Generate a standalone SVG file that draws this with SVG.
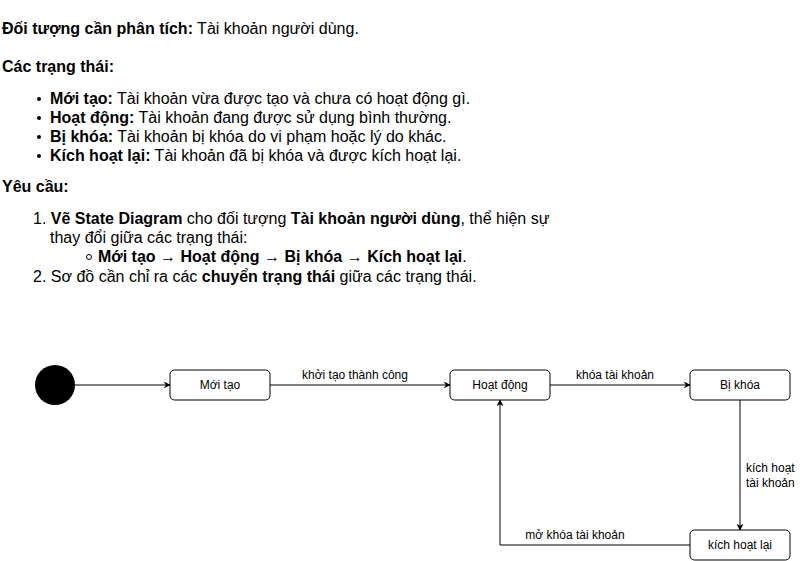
<svg xmlns="http://www.w3.org/2000/svg" width="800" height="561" viewBox="0 0 800 561">
<style>
.t{font-family:"Liberation Sans",Arial,sans-serif;font-size:16px;fill:#000}
.b{font-weight:bold}
.n{fill:#fff;stroke:#000;stroke-width:1}
.nl{font-family:"Liberation Sans",Arial,sans-serif;font-size:12px;fill:#000;text-anchor:middle}
.el{font-family:"Liberation Sans",Arial,sans-serif;font-size:12px;fill:#000}
.e{fill:none;stroke:#000;stroke-width:1;marker-end:url(#arr)}
</style>
<defs>
<marker id="arr" viewBox="0 0 10 10" refX="9" refY="5" markerWidth="7" markerHeight="7" orient="auto" markerUnits="userSpaceOnUse">
<path d="M0,0 L10,5 L0,10 L3,5 Z" fill="#000"/>
</marker>
</defs>
<rect width="800" height="561" fill="#fff"/>
<g id="text">
<text class="t" x="2" y="34"><tspan class="b">Đối tượng cần phân tích:</tspan> Tài khoản người dùng.</text>
<text class="t b" x="2" y="72">Các trạng thái:</text>
<circle cx="39" cy="99" r="2" fill="#000"/>
<text class="t" x="50" y="104"><tspan class="b">Mới tạo:</tspan> Tài khoản vừa được tạo và chưa có hoạt động gì.</text>
<circle cx="39" cy="118" r="2" fill="#000"/>
<text class="t" x="50" y="123"><tspan class="b">Hoạt động:</tspan> Tài khoản đang được sử dụng bình thường.</text>
<circle cx="39" cy="137" r="2" fill="#000"/>
<text class="t" x="50" y="142"><tspan class="b">Bị khóa:</tspan> Tài khoản bị khóa do vi phạm hoặc lý do khác.</text>
<circle cx="39" cy="156" r="2" fill="#000"/>
<text class="t" x="50" y="161"><tspan class="b">Kích hoạt lại:</tspan> Tài khoản đã bị khóa và được kích hoạt lại.</text>
<text class="t b" x="2" y="192">Yêu cầu:</text>
<text class="t" x="33" y="224">1. <tspan class="b">Vẽ State Diagram</tspan> cho đối tượng <tspan class="b">Tài khoản người dùng</tspan>, thể hiện sự</text>
<text class="t" x="50" y="243">thay đổi giữa các trạng thái:</text>
<circle cx="89" cy="257" r="2.5" fill="none" stroke="#000" stroke-width="1"/>
<text class="t" x="98" y="262"><tspan class="b">Mới tạo → Hoạt động → Bị khóa → Kích hoạt lại</tspan>.</text>
<text class="t" x="33" y="282">2. Sơ đồ cần chỉ ra các <tspan class="b">chuyển trạng thái</tspan> giữa các trạng thái.</text>
</g>
<g id="edges">
<path class="e" d="M75,385 L170,385"/>
<path class="e" d="M270,385 L450,385"/>
<text class="el" x="355" y="379" text-anchor="middle">khởi tạo thành công</text>
<path class="e" d="M550,385 L690,385"/>
<text class="el" x="615" y="379" text-anchor="middle">khóa tài khoản</text>
<path class="e" d="M740,400 L740,530"/>
<text class="el" x="746" y="472">kích hoạt</text>
<text class="el" x="746" y="487">tài khoản</text>
<path class="e" d="M690,545 L500,545 L500,400"/>
<text class="el" x="575" y="539" text-anchor="middle">mở khóa tài khoản</text>
</g>
<g id="start"><circle cx="55" cy="385" r="20" fill="#000"/></g>
<g id="moi-tao"><rect class="n" x="170" y="370" width="100" height="30" rx="4.5"/><text class="nl" x="220" y="389">Mới tạo</text></g>
<g id="hoat-dong"><rect class="n" x="450" y="370" width="100" height="30" rx="4.5"/><text class="nl" x="500" y="389">Hoạt động</text></g>
<g id="bi-khoa"><rect class="n" x="690" y="370" width="100" height="30" rx="4.5"/><text class="nl" x="740" y="389">Bị khóa</text></g>
<g id="kich-hoat-lai"><rect class="n" x="690" y="530" width="100" height="30" rx="4.5"/><text class="nl" x="740" y="549">kích hoạt lại</text></g>
</svg>
